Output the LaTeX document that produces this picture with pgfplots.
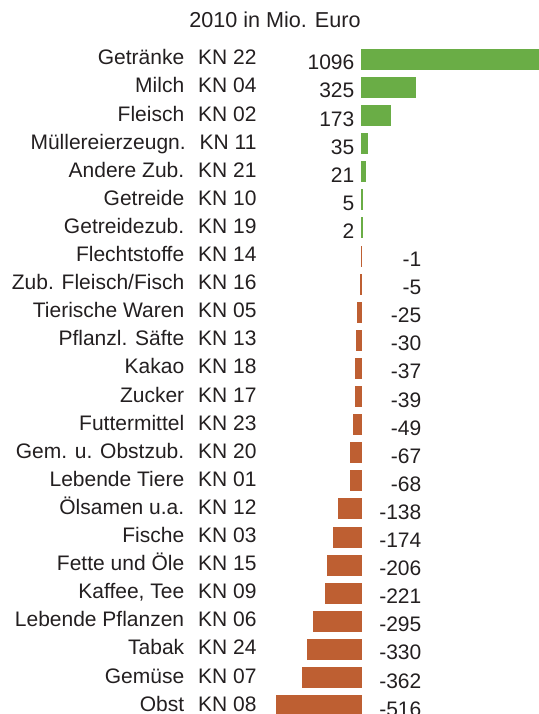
\documentclass[border=0pt]{standalone}
\usepackage{fontspec}
\setmainfont{Liberation Sans}
\usepackage{pgfplots}
\usepackage{pgfplotstable}
\pgfplotsset{compat=1.18}

\definecolor{posgreen}{RGB}{106,173,70}
\definecolor{negorange}{RGB}{190,95,50}
\definecolor{txt}{RGB}{35,31,32}

% y = row (0 = bottom), x = Mio. Euro
\pgfplotstableread{
y x
23 1096
22 325
21 173
20 35
19 21
18 5
17 2
}\pos

\pgfplotstableread{
y x
16 -1
15 -5
14 -25
13 -30
12 -37
11 -39
10 -49
9 -67
8 -68
7 -138
6 -174
5 -206
4 -221
3 -295
2 -330
1 -362
0 -516
}\neg

\newcommand{\kn}[2]{#1\hspace{7pt}KN #2}

\begin{document}
\begin{tikzpicture}[font=\fontsize{10.5}{12.5}\selectfont, text=txt]
\useasboundingbox (-138pt,2.85pt) rectangle (131.5pt,359.85pt);
\clip (-138pt,2.85pt) rectangle (131.5pt,359.85pt);
\begin{axis}[
    at={(0,0)}, anchor=south west,
    scale only axis,
    width=131.5pt, height=337.2pt,
    xmin=-520, xmax=1075,
    ymin=-0.5, ymax=23.5,
    axis line style={draw=none},
    tick style={draw=none},
    xtick=\empty,
    ytick={0,...,23},
    yticklabels={
        \kn{Obst}{08},
        \kn{Gemüse}{07},
        \kn{Tabak}{24},
        \kn{Lebende Pflanzen}{06},
        {\kn{Kaffee, Tee}{09}},
        \kn{Fette und Öle}{15},
        \kn{Fische}{03},
        \kn{Ölsamen u.a.}{12},
        \kn{Lebende Tiere}{01},
        \kn{Gem. u. Obstzub.}{20},
        \kn{Futtermittel}{23},
        \kn{Zucker}{17},
        \kn{Kakao}{18},
        \kn{Pflanzl. Säfte}{13},
        \kn{Tierische Waren}{05},
        \kn{Zub. Fleisch/Fisch}{16},
        \kn{Flechtstoffe}{14},
        \kn{Getreidezub.}{19},
        \kn{Getreide}{10},
        \kn{Andere Zub.}{21},
        \kn{Müllereierzeugn.}{11},
        \kn{Fleisch}{02},
        \kn{Milch}{04},
        \kn{Getränke}{22}},
    yticklabel style={anchor=east, inner sep=0pt, text height=7.5pt, text depth=0pt,
        xshift=-9.5pt, yshift=1pt, text=txt},
]
\addplot[xbar, bar width=10pt, fill=posgreen, draw=posgreen, line width=0.5pt]
    table[x=x, y=y] {\pos};
\addplot[xbar, bar width=10pt, fill=negorange, draw=negorange, line width=0.5pt]
    table[x=x, y=y] {\neg};
% value labels
\addplot[draw=none, mark=none, nodes near coords, point meta=explicit symbolic,
    nodes near coords style={anchor=east, inner sep=0pt, text height=7.5pt, text depth=0pt,
        xshift=-3.5pt, yshift=-1.5pt, text=txt}]
    table[x expr=0, y=y, meta=x] {\pos};
\addplot[draw=none, mark=none, nodes near coords, point meta=explicit symbolic,
    nodes near coords style={anchor=east, inner sep=0pt, text height=7.5pt, text depth=0pt,
        xshift=30pt, yshift=-1.5pt, text=txt}]
    table[x expr=0, y=y, meta=x] {\neg};
\end{axis}
\node[anchor=base, font=\fontsize{10.8}{13}\selectfont, text=txt] at (-0.5pt,346.3pt) {2010 in Mio. Euro};
\end{tikzpicture}
\end{document}
